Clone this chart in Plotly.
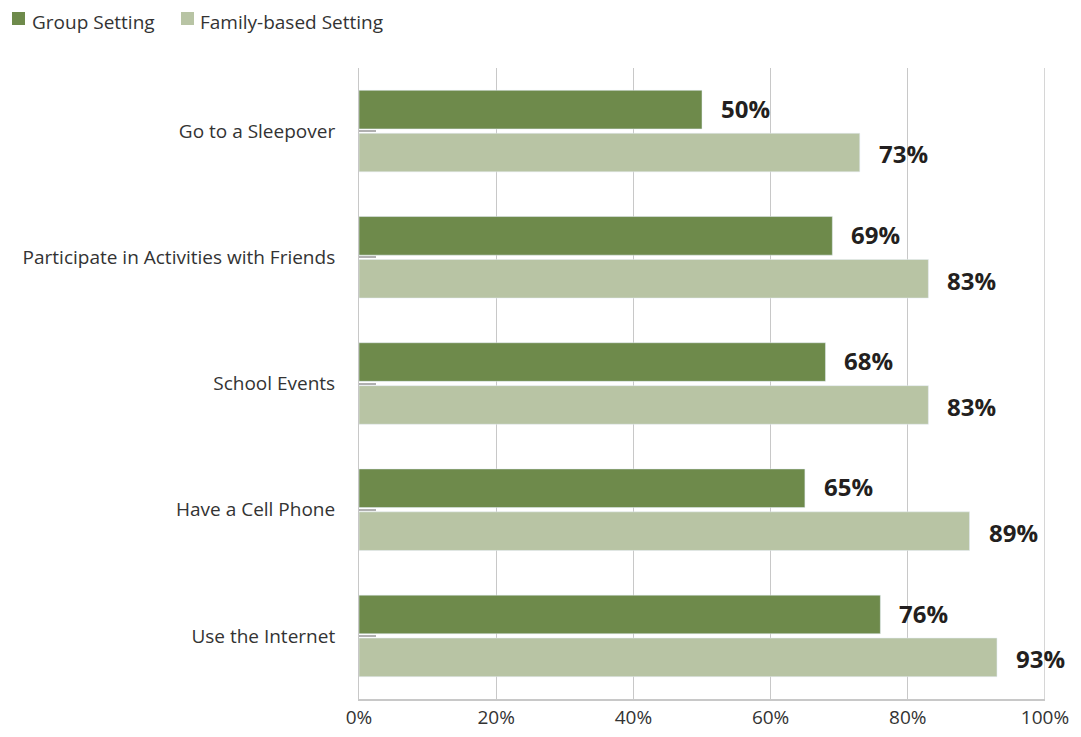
import plotly.graph_objects as go

categories = ["Go to a Sleepover", "Participate in Activities with Friends",
              "School Events", "Have a Cell Phone", "Use the Internet"]
group_setting = [50, 69, 68, 65, 76]
family_setting = [73, 83, 83, 89, 93]
tick_vals = [0, 20, 40, 60, 80, 100]
tick_text = ["0%", "20%", "40%", "60%", "80%", "100%"]
series_names = ["Group Setting", "Family-based Setting"]

c_group = "#6e8a4b"
c_family = "#b8c4a4"
font = "Open Sans, Lato, sans-serif"

W, H = 1073, 729
ML, MR, MT, MB = 351, 36, 60, 38
PW, PH = W - ML - MR, H - MT - MB


def px(fx):
    return (fx - ML) / PW


def py(fy):
    return (H - MB - fy) / PH


fig = go.Figure()
fig.add_trace(go.Bar(y=categories, x=group_setting, orientation="h",
                     name=series_names[0], marker_color=c_group, showlegend=False))
fig.add_trace(go.Bar(y=categories, x=family_setting, orientation="h",
                     name=series_names[1], marker_color=c_family, showlegend=False))

annots = []
for i, cat in enumerate(categories):
    for val, off in ((group_setting[i], -0.18), (family_setting[i], 0.18)):
        annots.append(dict(x=val, y=i + off, xref="x", yref="y", text=f"<b>{val}%</b>",
                           showarrow=False, xanchor="left", xshift=17,
                           font=dict(family=font, size=24, color="#231f20")))

# manual legend
shapes = []
for (sx, tx), name, col in zip([(4, 23), (173, 191)], series_names, [c_group, c_family]):
    shapes.append(dict(type="rect", xref="paper", yref="paper",
                       x0=px(sx), x1=px(sx + 13), y0=py(4), y1=py(17),
                       fillcolor=col, line=dict(width=0)))
    annots.append(dict(x=px(tx), y=py(0), xref="paper", yref="paper", text=name,
                       showarrow=False, xanchor="left", yanchor="top",
                       borderpad=0, font=dict(family=font, size=19, color="#333333")))

shapes.append(dict(type="line", xref="x", yref="paper", x0=100, x1=100, y0=0, y1=1,
                   line=dict(color="#c8c8c8", width=1.5)))

fig.update_layout(
    width=W, height=H,
    margin=dict(l=ML, r=MR, t=MT, b=MB, autoexpand=False),
    plot_bgcolor="white", paper_bgcolor="white",
    barmode="group", bargap=0.32, bargroupgap=0.1,
    font=dict(family=font, size=19, color="#333333"),
    showlegend=False,
    annotations=annots,
    shapes=shapes,
    xaxis=dict(range=[0, 100], tickvals=tick_vals, ticktext=tick_text,
               showgrid=True, gridcolor="#c8c8c8", gridwidth=1,
               showline=True, linecolor="#c8c8c8", linewidth=2, mirror=False,
               zeroline=False, ticks="", tickfont=dict(size=19, color="#333333")),
    yaxis=dict(autorange="reversed", showline=True, linecolor="#c8c8c8", linewidth=1,
               ticks="inside", ticklen=17, tickcolor="#b0b0b0", tickwidth=2,
               ticklabelstandoff=19, tickfont=dict(size=19, color="#333333")),
)

fig.write_html("out.html")
